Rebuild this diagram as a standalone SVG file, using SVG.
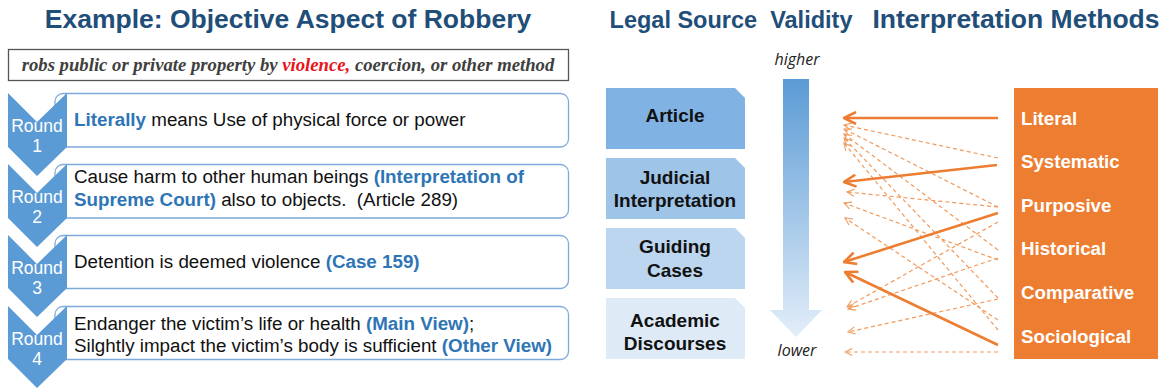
<svg xmlns="http://www.w3.org/2000/svg" width="1168" height="392" viewBox="0 0 1168 392">
<style>
.title{font-family:"Liberation Sans",Arial,sans-serif;font-weight:bold;font-size:26.5px;fill:#1f4e79}
.quote{font-family:"Liberation Serif","Times New Roman",serif;font-weight:bold;font-style:italic;font-size:18.7px;fill:#404040}
.red{fill:#e8141b}
.chev{fill:#5b9bd5}
.rnd{font-family:"Liberation Sans",Arial,sans-serif;font-size:17.5px;fill:#ffffff;text-anchor:middle}
.box{fill:#ffffff;stroke:#7ea9db;stroke-width:1.3}
.txt{font-family:"Liberation Sans",Arial,sans-serif;font-size:18.8px;fill:#111111}
.hl{font-weight:bold;fill:#2e75b6}
.src{font-family:"Liberation Sans",Arial,sans-serif;font-weight:bold;font-size:19px;fill:#111111;text-anchor:middle}
.val{font-family:"Open Sans",Lato,sans-serif;font-style:italic;font-size:16px;fill:#222222;text-anchor:middle}
.meth{font-family:"Liberation Sans",Arial,sans-serif;font-weight:bold;font-size:18.7px;fill:#ffffff}
.solid{stroke:#ed7d31;stroke-width:2.6;fill:none;marker-end:url(#ah)}
.dash{stroke:#f09a5c;stroke-width:1.2;fill:none;stroke-dasharray:4 3;marker-end:url(#ahd)}
</style>
<defs>
<linearGradient id="vg" x1="0" y1="0" x2="0" y2="1">
<stop offset="0" stop-color="#5b9bd5"/>
<stop offset="1" stop-color="#e3eef9"/>
</linearGradient>
<marker id="ah" viewBox="0 0 14 14" refX="13" refY="7" markerWidth="14" markerHeight="14" markerUnits="userSpaceOnUse" orient="auto">
<path d="M1,1 L13,7 L1,13" fill="none" stroke="#ed7d31" stroke-width="2.6"/>
</marker>
<marker id="ahd" viewBox="0 0 10 10" refX="9" refY="5" markerWidth="9" markerHeight="9" markerUnits="userSpaceOnUse" orient="auto">
<path d="M1,1 L9,5 L1,9" fill="none" stroke="#f09a5c" stroke-width="1.2"/>
</marker>
</defs>

<g id="titles">
<text class="title" x="288" y="28" text-anchor="middle">Example: Objective Aspect of Robbery</text>
<text class="title" x="731" y="28" text-anchor="middle" style="font-size:23.5px" xml:space="preserve">Legal Source  Validity</text>
<text class="title" x="1016" y="28" text-anchor="middle">Interpretation Methods</text>
</g>

<g id="quote">
<rect x="8.5" y="49.5" width="560" height="31" fill="#ffffff" stroke="#555555" stroke-width="1.3"/>
<text class="quote" x="288" y="71" text-anchor="middle">robs public or private property by <tspan class="red">violence,</tspan> coercion, or other method</text>
</g>

<g id="round1">
<rect class="box" x="55" y="93.5" width="513.5" height="53.5" rx="8"/>
<polygon class="chev" points="8,93 37,122 67,93 67,147 37,176 8,147"/>
<text class="rnd" x="37" y="132">Round</text>
<text class="rnd" x="37" y="152">1</text>
<text class="txt" x="74" y="126"><tspan class="hl">Literally</tspan> means Use of physical force or power</text>
</g>

<g id="round2">
<rect class="box" x="55" y="164.5" width="513.5" height="53.5" rx="8"/>
<polygon class="chev" points="8,164 37,193 67,164 67,218 37,247 8,218"/>
<text class="rnd" x="37" y="203">Round</text>
<text class="rnd" x="37" y="223">2</text>
<text class="txt" x="74" y="183">Cause harm to other human beings <tspan class="hl">(Interpretation of</tspan></text>
<text class="txt" x="74" y="206"><tspan class="hl">Supreme Court)</tspan> also to objects.&#160; (Article 289)</text>
</g>

<g id="round3">
<rect class="box" x="55" y="235.5" width="513.5" height="53" rx="8"/>
<polygon class="chev" points="8,235 37,264 67,235 67,288 37,317 8,288"/>
<text class="rnd" x="37" y="274">Round</text>
<text class="rnd" x="37" y="294">3</text>
<text class="txt" x="74" y="268">Detention is deemed violence <tspan class="hl">(Case 159)</tspan></text>
</g>

<g id="round4">
<rect class="box" x="55" y="306.5" width="513.5" height="53" rx="8"/>
<polygon class="chev" points="8,306 37,335 67,306 67,359 37,388 8,359"/>
<text class="rnd" x="37" y="345">Round</text>
<text class="rnd" x="37" y="365">4</text>
<text class="txt" x="74" y="330">Endanger the victim’s life or health <tspan class="hl">(Main View)</tspan>;</text>
<text class="txt" x="74" y="352">Silghtly impact the victim’s body is sufficient <tspan class="hl">(Other View)</tspan></text>
</g>

<g id="src-article">
<polygon points="606,88 735,88 745,98 745,149 606,149" fill="#80b3e3"/>
<text class="src" x="675" y="122">Article</text>
</g>
<g id="src-judicial">
<polygon points="606,158 735,158 745,168 745,219 606,219" fill="#9ec4e8"/>
<text class="src" x="675" y="184">Judicial</text>
<text class="src" x="675" y="207">Interpretation</text>
</g>
<g id="src-guiding">
<polygon points="606,228 735,228 745,238 745,289 606,289" fill="#bcd6ef"/>
<text class="src" x="675" y="253">Guiding</text>
<text class="src" x="675" y="277">Cases</text>
</g>
<g id="src-academic">
<polygon points="606,298 735,298 745,308 745,359 606,359" fill="#deebf7"/>
<text class="src" x="675" y="327">Academic</text>
<text class="src" x="675" y="350">Discourses</text>
</g>

<g id="validity">
<text class="val" x="797" y="65">higher</text>
<polygon points="783,79 809,79 809,310 822,310 796,337 770,310 783,310" fill="url(#vg)"/>
<text class="val" x="797" y="356">lower</text>
</g>

<g id="methods">
<rect x="1014" y="88" width="144" height="271" fill="#ed7d31"/>
<text class="meth" x="1021" y="125">Literal</text>
<text class="meth" x="1021" y="168">Systematic</text>
<text class="meth" x="1021" y="212">Purposive</text>
<text class="meth" x="1021" y="255">Historical</text>
<text class="meth" x="1021" y="299">Comparative</text>
<text class="meth" x="1021" y="343">Sociological</text>
</g>

<g id="connectors">
<line class="dash" x1="998" y1="158" x2="844" y2="125"/>
<line class="dash" x1="998" y1="207" x2="844" y2="129"/>
<line class="dash" x1="998" y1="250" x2="844" y2="134"/>
<line class="dash" x1="998" y1="298" x2="844" y2="138"/>
<line class="dash" x1="998" y1="330" x2="844" y2="143"/>
<line class="dash" x1="998" y1="207" x2="847" y2="192"/>
<line class="dash" x1="998" y1="260" x2="844" y2="203"/>
<line class="dash" x1="998" y1="320" x2="845" y2="218"/>
<line class="dash" x1="998" y1="222" x2="847" y2="307"/>
<line class="dash" x1="998" y1="258" x2="848" y2="309"/>
<line class="dash" x1="998" y1="299" x2="848" y2="332"/>
<line class="dash" x1="998" y1="352" x2="845" y2="352"/>
<line class="solid" x1="998" y1="118" x2="844" y2="118"/>
<line class="solid" x1="997" y1="165" x2="844" y2="182"/>
<line class="solid" x1="998" y1="213" x2="844" y2="262"/>
<line class="solid" x1="998" y1="345" x2="845" y2="272"/>
</g>
</svg>
